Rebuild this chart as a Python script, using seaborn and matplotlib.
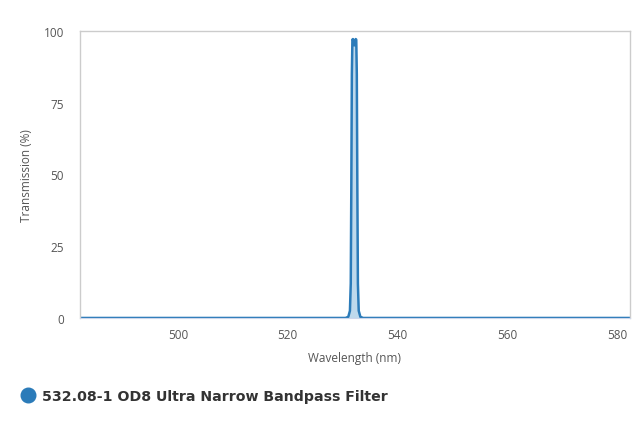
import numpy as np
import pandas as pd
import matplotlib
matplotlib.use("Agg")
import matplotlib.pyplot as plt
from matplotlib.lines import Line2D
import seaborn as sns

# Transmission curve
wavelength = [482.2, 530.5, 531.0, 531.3, 531.45, 531.55, 531.65, 531.75, 531.85,
              532.0, 532.1, 532.2, 532.35, 532.45, 532.55, 532.65, 532.75, 532.9,
              533.2, 533.7, 582.2]
transmission = [0.0, 0.0, 0.4, 2.5, 12.0, 45.0, 85.0, 97.0, 97.2,
                95.5, 95.0, 96.0, 97.2, 97.0, 85.0, 45.0, 12.0, 2.5,
                0.4, 0.0, 0.0]
series_name = "532.08-1 OD8 Ultra Narrow Bandpass Filter"
x_ticks = [500, 520, 540, 560, 580]
y_ticks = [0, 25, 50, 75, 100]

df = pd.DataFrame({"Wavelength": wavelength, "Transmission": transmission})

sns.set_style("white")
plt.rcParams["font.family"] = ["Open Sans", "DejaVu Sans"]

line_color = "#2b7bb9"
fig = plt.figure(figsize=(6.4, 4.27), dpi=100)
ax = fig.add_axes([0.125, 0.253, 0.859, 0.672])

sns.lineplot(data=df, x="Wavelength", y="Transmission", ax=ax,
             color=line_color, linewidth=1.8)
ax.fill_between(df["Wavelength"], df["Transmission"], color="#a9cde6", alpha=0.75, lw=0)

ax.set_xlim(482.2, 582.2)
ax.set_ylim(0, 100)
ax.set_xticks(x_ticks)
ax.set_yticks(y_ticks)
ax.set_xlabel("Wavelength (nm)", color="#555555", fontsize=8.5, labelpad=7)
ax.set_ylabel("Transmission (%)", color="#555555", fontsize=8.5, labelpad=8)
ax.tick_params(axis="y", colors="#ccd6eb", labelcolor="#555555", labelsize=8.5,
               length=7.5, width=1, direction="out", pad=4)
ax.tick_params(axis="x", colors="#ccd6eb", labelcolor="#555555", labelsize=8.5,
               length=5, width=1, direction="out", pad=2.5)

for side in ["left", "top", "right"]:
    ax.spines[side].set_color("#cccccc")
    ax.spines[side].set_linewidth(1)
ax.spines["bottom"].set_color("#ccd6eb")

# Legend below the chart
fig.add_artist(Line2D([28 / 640], [1 - 396 / 427], marker="o", markersize=10.5,
                      color=line_color, linestyle="none", transform=fig.transFigure))
fig.text(42 / 640, 1 - 397 / 427, series_name, fontsize=10.2, fontweight="bold",
         color="#333333", va="center", ha="left", family=["DejaVu Sans"])

fig.savefig("out.png", dpi=100)
